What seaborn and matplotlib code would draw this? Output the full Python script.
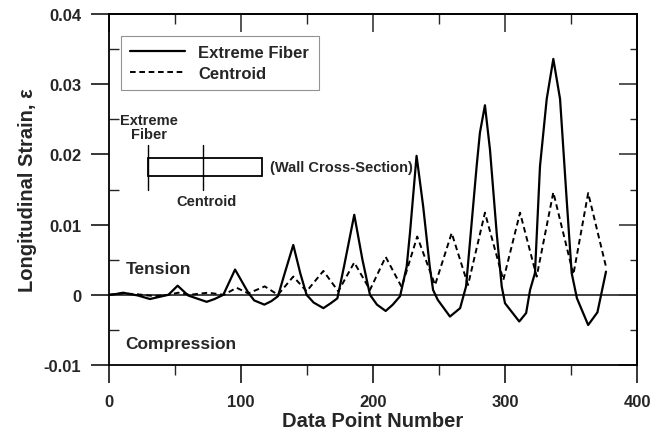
import pandas as pd
import matplotlib
matplotlib.use("Agg")
import matplotlib.pyplot as plt
from matplotlib.patches import Rectangle
from matplotlib.ticker import MultipleLocator
import seaborn as sns

# extreme fiber strain (vertices)
fiber_x = [0, 5, 10.8, 16, 22, 31, 38, 45, 52, 60, 74, 80, 86.6, 95.5, 105.5, 110,
           117.7, 123, 128, 133, 139.6, 145, 149.7, 155, 162.4, 168, 173, 178, 185.8,
           192, 197.7, 203, 209.6, 215, 220.5, 225.5, 228, 233, 238, 243, 245.5, 249,
           258.3, 266, 270.5, 278.5, 281, 284.8, 288.6, 293.7, 297.5, 300, 310.8, 316,
           319, 322.7, 326.5, 331.6, 336.6, 341.7, 346.7, 350.5, 354.5, 363, 370, 376.5]
fiber_y = [0, 0.0001, 0.0003, 0.0001, -0.0001, -0.0006, -0.0003, 0, 0.0013, -0.0001,
           -0.001, -0.0006, 0, 0.0036, 0.0003, -0.0008, -0.0014, -0.0009, -0.0002, 0.003,
           0.0071, 0.003, 0, -0.0011, -0.0019, -0.0012, -0.0005, 0.004, 0.0114, 0.005, 0,
           -0.0014, -0.0023, -0.0014, -0.0002, 0.004, 0.0088, 0.0198, 0.0126, 0.004,
           0.0007, -0.0007, -0.0031, -0.0019, 0.0012, 0.0183, 0.0231, 0.027, 0.0207,
           0.0088, 0.0012, -0.0012, -0.0038, -0.0026, 0.0007, 0.0031, 0.0183, 0.0279,
           0.0336, 0.0279, 0.0136, 0.0031, -0.0005, -0.0043, -0.0025, 0.0033]

# centroid strain
centroid_x = [0, 10, 20, 35, 45, 52.5, 61, 75, 87, 96.7, 105.5, 118, 128, 139.6, 149.7,
              162.4, 173.7, 185.8, 197.7, 209.6, 221.7, 233.5, 247, 259.6, 272, 284.8,
              298.7, 311.4, 324, 336.6, 351.8, 363, 376.5]
centroid_y = [0, 0.0002, 0.0001, -0.0002, 0, 0.0003, 0, 0.0003, 0, 0.001, 0.0002,
              0.0012, 0, 0.0026, 0.0005, 0.0034, 0.0005, 0.0046, 0.0007, 0.0054, 0.0011,
              0.0083, 0.0014, 0.0088, 0.0014, 0.0117, 0.0021, 0.0117, 0.0026, 0.0146,
              0.0029, 0.0145, 0.004]

y_ticks = [-0.01, 0, 0.01, 0.02, 0.03, 0.04]
y_tick_labels = ["-0.01", "0", "0.01", "0.02", "0.03", "0.04"]
x_ticks = [0, 100, 200, 300, 400]

sns.set_theme(style="ticks")
plt.rcParams["font.family"] = ["Liberation Sans", "DejaVu Sans"]
plt.rcParams["font.weight"] = "bold"

fiber = pd.DataFrame({"point": fiber_x, "strain": fiber_y})
centroid = pd.DataFrame({"point": centroid_x, "strain": centroid_y})

fig = plt.figure(figsize=(6.63, 4.35), dpi=100)
ax = fig.add_axes([0.1644, 0.1586, 0.7964, 0.8069])

ax.axhline(0, color="#333333", lw=1.3, zorder=1)
sns.lineplot(data=fiber, x="point", y="strain", sort=False, estimator=None,
             color="black", lw=1.6, ax=ax, label="Extreme Fiber")
sns.lineplot(data=centroid, x="point", y="strain", sort=False, estimator=None,
             color="black", lw=1.4, ax=ax, label="Centroid")
ax.lines[-1].set_dashes([2.9, 1.9])

ax.set_xlim(0, 400)
ax.set_ylim(-0.01, 0.04)
ax.set_xticks(x_ticks)
ax.set_yticks(y_ticks)
ax.set_yticklabels(y_tick_labels)
ax.xaxis.set_minor_locator(MultipleLocator(50))
ax.yaxis.set_minor_locator(MultipleLocator(0.005))

for s in ax.spines.values():
    s.set_linewidth(1.3)
    s.set_color("black")

ax.tick_params(which="major", direction="out", length=13, width=1.1,
               labelsize=12, color="black")
ax.tick_params(axis="x", which="major", pad=8)
ax.tick_params(axis="y", which="major", pad=7)
ax.tick_params(axis="x", which="minor", direction="out", length=7, width=1.0)
ax.tick_params(axis="y", which="minor", direction="in", length=7, width=1.0)
for lab in ax.get_xticklabels() + ax.get_yticklabels():
    lab.set_fontweight("bold")

top = ax.secondary_xaxis("top")
top.set_xticks(x_ticks)
top.xaxis.set_minor_locator(MultipleLocator(50))
top.tick_params(which="major", direction="in", length=13, width=1.1, labeltop=False)
top.tick_params(which="minor", direction="in", length=7, width=1.0)
right = ax.secondary_yaxis("right")
right.set_yticks(y_ticks)
right.yaxis.set_minor_locator(MultipleLocator(0.005))
right.tick_params(which="major", direction="in", length=13, width=1.1, labelright=False)
right.tick_params(which="minor", direction="in", length=5, width=1.0)
for sec in (top, right):
    for s in sec.spines.values():
        s.set_linewidth(1.3)

ax.set_xlabel("Data Point Number", fontsize=14.5, fontweight="bold", labelpad=1)
ax.set_ylabel("Longitudinal Strain, ε", fontsize=14.5, fontweight="bold", labelpad=5)

leg = ax.legend(loc="upper left", bbox_to_anchor=(0.0227, 0.937), borderaxespad=0,
                fancybox=False, frameon=True, edgecolor="#777777", handlelength=3.3,
                prop={"weight": "bold", "size": 12}, borderpad=0.55, labelspacing=0.35,
                handletextpad=0.8)
leg.get_frame().set_linewidth(0.8)

# wall cross-section sketch
ax.add_patch(Rectangle((29.5, 0.01686), 86.4, 0.00257, fill=False, ec="black", lw=1.3))
ax.plot([29.5, 29.5], [0.0150, 0.0213], color="black", lw=1.0)
ax.plot([71.2, 71.2], [0.0150, 0.0213], color="black", lw=1.0)
ax.text(30.3, 0.0239, "Extreme\nFiber", ha="center", va="center", fontsize=10.5,
        fontweight="bold", linespacing=1.05)
ax.text(74.2, 0.0133, "Centroid", ha="center", va="center", fontsize=10.5, fontweight="bold")
ax.text(122, 0.01814, "(Wall Cross-Section)", ha="left", va="center", fontsize=10.5,
        fontweight="bold")
ax.text(12.5, 0.0037, "Tension", ha="left", va="center", fontsize=12.5, fontweight="bold")
ax.text(12.5, -0.0069, "Compression", ha="left", va="center", fontsize=12.5, fontweight="bold")

fig.savefig("out.png", dpi=100)
